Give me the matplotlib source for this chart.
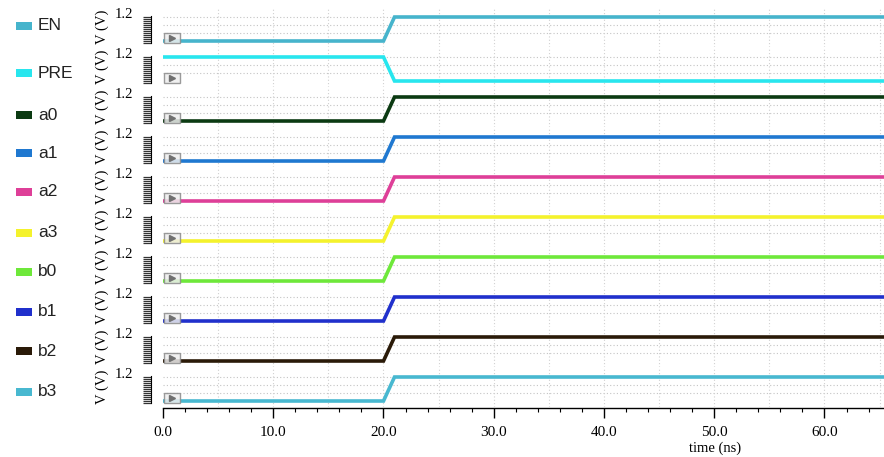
"""
Digital waveform view: EN, PRE and the a/b inputs switching at ~20 ns.
"""

import matplotlib
matplotlib.use("Agg")
import matplotlib.pyplot as plt
from matplotlib.patches import Rectangle
import numpy as np

# signal data
names = ["EN", "PRE", "a0", "a1", "a2", "a3", "b0", "b1", "b2", "b3"]
colors = ["#46b4cc", "#28e6ee", "#0b3a12", "#1f78d0", "#de3f98",
          "#f4f22c", "#6ee83a", "#2030cc", "#2a1a08", "#48b8d0"]
times = [0.0, 20.0, 20.5, 21.0, 65.4]       # ns
rise = [0.0, 0.0, 0.6, 1.2, 1.2]            # V
fall = [1.2, 1.2, 0.6, 0.0, 0.0]            # V
waves = [rise, fall] + [rise] * 8

# layout (pixels)
W, H = 884, 457
left_px = 163
panel_h = 40
first_top = 7
legend_y = [26, 73, 115, 153, 192, 233, 272, 312, 351, 392]

serif = "Liberation Serif"
fig = plt.figure(figsize=(W / 100, H / 100), dpi=100)

axes = []
for k, (name, col, wave) in enumerate(zip(names, colors, waves)):
    top = first_top + k * panel_h
    ax = fig.add_axes([left_px / W, 1 - (top + panel_h) / H,
                       1 - left_px / W, panel_h / H])
    ax.set_xlim(0, 65.4)
    ax.set_ylim(-0.3, 1.7)

    # dotted grid
    for gy in [0.4, 0.8, 1.2]:
        ax.axhline(gy, color="#c4c4c4", lw=0.8, ls=(0, (1, 2)), zorder=0)
    for gx in np.arange(5, 66, 5):
        ax.axvline(gx, color="#d0d0d0", lw=0.8, ls=(0, (1, 2)), zorder=0)

    ax.plot(times, wave, color=col, lw=2.6, solid_joinstyle="miter", zorder=3)

    # little marker box with triangle
    ax.add_patch(Rectangle((0.002, 0.1), 0.021, 0.25, transform=ax.transAxes,
                           facecolor="#eeeeee", edgecolor="#8a8a8a", lw=1.0,
                           alpha=0.85, zorder=4))
    ax.plot([0.0125], [0.225], marker=">", ms=4.5, color="#707070",
            transform=ax.transAxes, zorder=5)

    # comb-like y axis
    for s in ["top", "right", "bottom"]:
        ax.spines[s].set_visible(False)
    ax.spines["left"].set_position(("outward", 9))
    ax.spines["left"].set_bounds(-0.1, 1.25)
    ax.spines["left"].set_linewidth(0.8)
    ax.set_yticks(np.arange(-0.1, 1.26, 0.1))
    ax.tick_params(axis="y", length=6, width=0.9, direction="out",
                   labelleft=False, color="#333333")
    ax.set_xticks([])

    ax.annotate("1.2", xy=(0, 1.2), xycoords=ax.get_yaxis_transform(),
                xytext=(-30, 3), textcoords="offset pixels",
                ha="right", va="center", fontsize=10.5, family=serif)
    ax.text(-61 / (W - left_px), 0.5, "V (V)", transform=ax.transAxes,
            rotation=90, ha="center", va="center", fontsize=10.5, family=serif)

    # legend entry
    ly = legend_y[k]
    fig.patches.append(Rectangle((16 / W, 1 - (ly + 4) / H), 16 / W, 8 / H,
                                 transform=fig.transFigure, facecolor=col,
                                 edgecolor="none"))
    fig.text(38 / W, 1 - ly / H, name, ha="left", va="center",
             fontsize=12.5, family="Liberation Sans", color="#222222")
    axes.append(ax)

# time axis on the bottom panel
ax = axes[-1]
ax.spines["bottom"].set_visible(True)
ax.spines["bottom"].set_position(("outward", 1))
ax.spines["bottom"].set_linewidth(1.0)
ax.set_xticks(np.arange(0, 61, 10))
ax.set_xticks(np.arange(0, 66, 2), minor=True)
ax.set_xticklabels([f"{v:.1f}" for v in np.arange(0, 61, 10)],
                   family=serif, fontsize=11)
ax.tick_params(axis="x", which="major", length=7.5, width=1.0, pad=5)
ax.tick_params(axis="x", which="minor", length=3, width=0.8)
fig.text(715 / W, 1 - 448 / H, "time (ns)", ha="center", va="center",
         fontsize=10.5, family=serif)

fig.savefig("out.png", dpi=100)
